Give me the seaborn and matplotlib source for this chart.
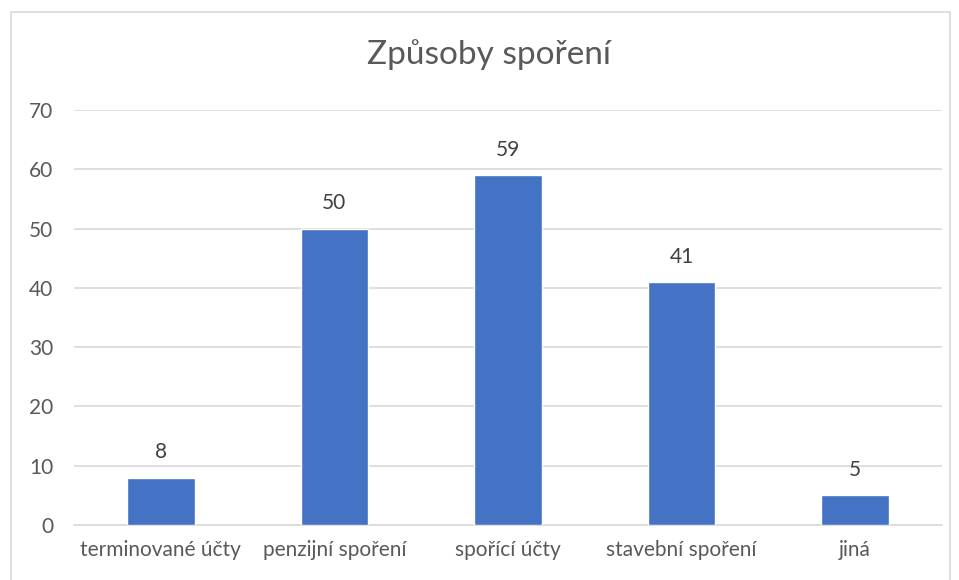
import matplotlib
matplotlib.use('Agg')
import matplotlib.pyplot as plt
import seaborn as sns
import pandas as pd
from matplotlib.lines import Line2D

# Data
categories = ['terminované účty', 'penzijní spoření', 'spořící účty', 'stavební spoření', 'jiná']
values = [8, 50, 59, 41, 5]
y_ticks = [0, 10, 20, 30, 40, 50, 60, 70]

df = pd.DataFrame({'category': categories, 'value': values})

sns.set_style('white')
plt.rcParams['font.family'] = ['Lato', 'DejaVu Sans']

fig = plt.figure(figsize=(9.59, 5.8), dpi=100)
ax = fig.add_axes([74 / 959, 1 - 525 / 580, (942 - 74) / 959, (525 - 110) / 580])

sns.barplot(data=df, x='category', y='value', color='#4472C4', width=0.39,
            saturation=1, ax=ax, zorder=3)

ax.set_ylim(0, 70)
ax.set_yticks(y_ticks)
ax.yaxis.grid(True, color='#D9D9D9', linewidth=1.2, zorder=0)
ax.set_axisbelow(True)
for s in ['top', 'right', 'left']:
    ax.spines[s].set_visible(False)
ax.spines['bottom'].set_color('#D9D9D9')
ax.spines['bottom'].set_linewidth(1.2)
ax.tick_params(axis='both', length=0, labelsize=15, colors='#595959')
ax.tick_params(axis='y', pad=15)
ax.tick_params(axis='x', pad=11)
ax.set_xlabel('')
ax.set_ylabel('')

# Value labels above bars
for i, v in enumerate(values):
    ax.annotate(str(v), (i, v), xytext=(0, 11), textcoords='offset points',
                ha='center', va='bottom', fontsize=15, color='#404040')

fig.text(489 / 959, 1 - 55 / 580, 'Způsoby spoření', ha='center', va='center',
         fontsize=24, color='#595959')

# Chart area border (left, top, right)
bx0, bx1, by = 10.5 / 959, 950 / 959, 1 - 11.5 / 580
fig.add_artist(Line2D([bx0, bx0, bx1, bx1], [0, by, by, 0],
                      transform=fig.transFigure, color='#D9D9D9', linewidth=1.2))

fig.savefig('out.png', dpi=100)
